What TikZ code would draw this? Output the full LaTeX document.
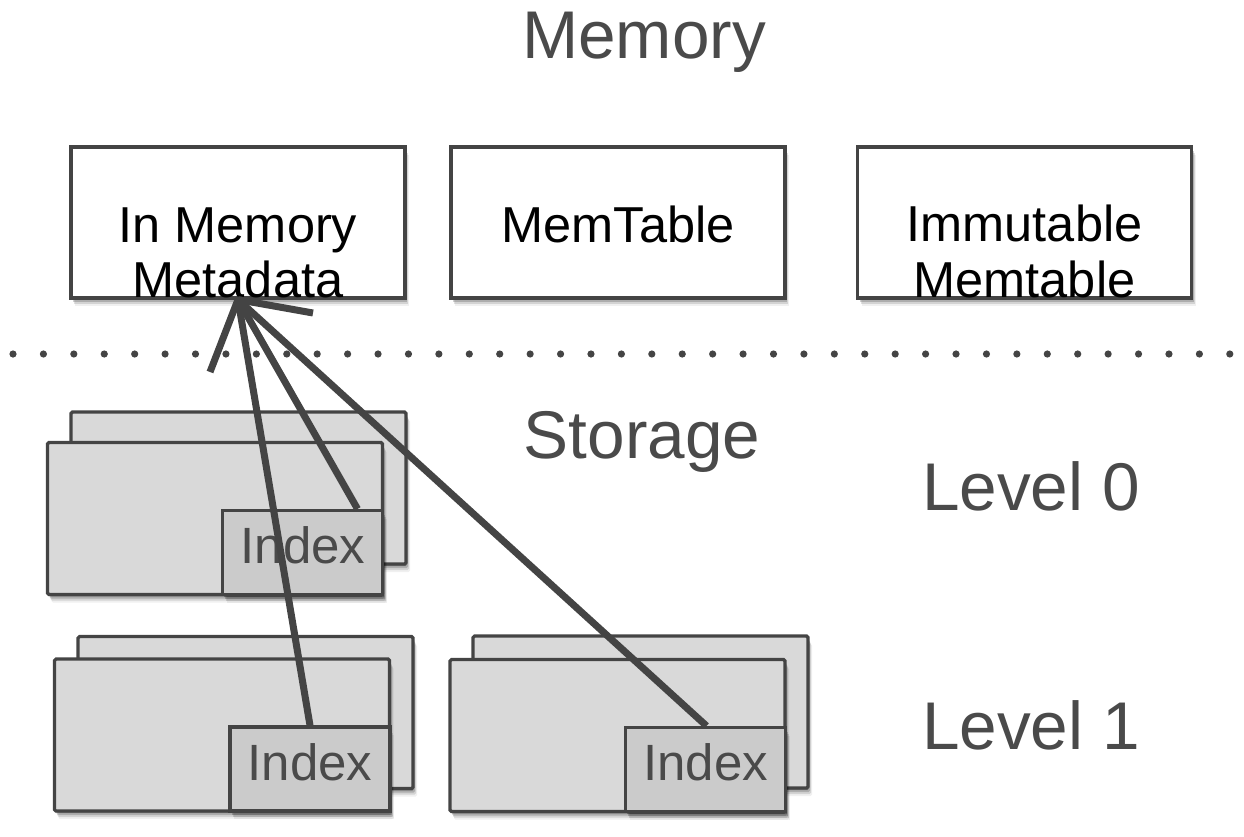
\documentclass[tikz,border=0pt]{standalone}
\usepackage{fontspec}
\setmainfont{Liberation Sans}
\usetikzlibrary{shadows,calc}
\definecolor{ink}{HTML}{444444}
\definecolor{txtgray}{HTML}{4A4A4A}
\definecolor{boxfill}{HTML}{D9D9D9}
\definecolor{idxfill}{HTML}{CBCBCB}
\tikzset{
  softshadow/.style={
    drop shadow={shadow xshift=1pt,shadow yshift=-2pt,opacity=0.25,fill=black},
    drop shadow={shadow xshift=2pt,shadow yshift=-4pt,opacity=0.18,fill=black},
    drop shadow={shadow xshift=3pt,shadow yshift=-6pt,opacity=0.12,fill=black},
    drop shadow={shadow xshift=4pt,shadow yshift=-8pt,opacity=0.06,fill=black}},
  membox/.style={draw=ink,line width=3.2pt,fill=white,inner sep=0pt,
    minimum width=334pt,minimum height=151pt,softshadow},
  filebox/.style={draw=ink,line width=3.2pt,fill=boxfill,inner sep=0pt,rounded corners=1.5pt,
    minimum width=335pt,minimum height=152pt,softshadow},
  idxbox/.style={draw=ink,line width=3.2pt,fill=idxfill,inner sep=0pt,
    minimum width=160pt,minimum height=84pt,softshadow},
  bigtitle/.style={text=txtgray,anchor=base,inner sep=0pt,font=\fontsize{67.5}{67.5}\selectfont},
  boxtext/.style={text=black,anchor=base,inner sep=0pt,font=\fontsize{50.5}{50.5}\selectfont},
  idxtext/.style={text=txtgray,anchor=base,inner sep=0pt,font=\fontsize{51}{51}\selectfont},
  conn/.style={draw=ink,line width=7pt},
  dotmark/.style={fill=ink,draw=none}
}
\begin{document}
\begin{tikzpicture}[x=1pt,y=-1pt]
\useasboundingbox (0,0) rectangle (1244,836);
% Memory section
\node[bigtitle] (tmem) at (644,58) {Memory};
\node[membox] (meta) at (238,222.5) {};
\node[membox] (memt) at (618,222.5) {};
\node[membox] (imm) at (1024.5,222.5) {};
\node[boxtext] (t1a) at (238,242) {In Memory};
\node[boxtext] (t1b) at (238,297) {Metadata};
\node[boxtext] (t2) at (618,242) {MemTable};
\node[boxtext] (t3a) at (1024.5,241) {Immutable};
\node[boxtext] (t3b) at (1024.5,297) {Memtable};
% dotted separator
\foreach \i in {0,...,40} {
  \fill[dotmark] (13+30.42*\i,354) circle (3.6);
}
% Storage section
\node[bigtitle] (tsto) at (642,458) {Storage};
\node[bigtitle] (tl0) at (1031,510) {Level 0};
\node[bigtitle] (tl1) at (1031,749) {Level 1};
% Level 0
\node[filebox] (b0) at (238.5,488) {};
\node[filebox] (f0) at (215,518.5) {};
\node[idxbox] (idx0) at (302.5,552.5) {};
\node[idxtext] (i0) at (303,563) {Index};
% Level 1 left
\node[filebox] (b1) at (245.5,712.5) {};
\node[filebox] (f1) at (222,735) {};
\node[idxbox] (idx1) at (310,769) {};
\node[idxtext] (i1) at (310,780) {Index};
% Level 1 right
\node[filebox] (b2) at (640.5,712) {};
\node[filebox] (f2) at (617.5,735.5) {};
\node[idxbox] (idx2) at (705.5,769.5) {};
\node[idxtext] (i2) at (705.5,780) {Index};
% connectors
\coordinate (barbL) at (210,372);
\coordinate (barbR) at (313,313);
\draw[conn] (meta.south) -- (idx1.north);
\draw[conn] (meta.south) -- ([xshift=55pt]idx0.north);
\draw[conn] (meta.south) -- ([xshift=1pt]idx2.north);
\draw[conn] (meta.south) -- (barbL);
\draw[conn] (meta.south) -- (barbR);
\end{tikzpicture}
\end{document}
